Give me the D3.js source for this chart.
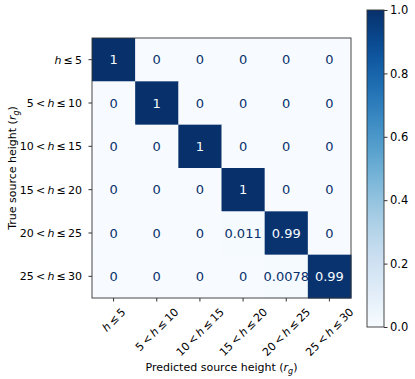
<!DOCTYPE html>
<html>
<head>
<meta charset="utf-8">
<script src="https://cdn.jsdelivr.net/npm/d3@7"></script>
<style>
  body { margin: 0; background: #fff; }
  text { font-family: "DejaVu Sans", sans-serif; }
</style>
</head>
<body>
<div id="chart"></div>
<script>
// bin labels: [prefix, suffix] round the italic h (thin spaces like mathtext)
var bins = [['', '\u2009≤\u20095'], ['5\u2009<\u2009', '\u2009≤\u200910'], ['10\u2009<\u2009', '\u2009≤\u200915'],
            ['15\u2009<\u2009', '\u2009≤\u200920'], ['20\u2009<\u2009', '\u2009≤\u200925'], ['25\u2009<\u2009', '\u2009≤\u200930']]

// rows = true height, columns = predicted height
var row0 = [1, 0, 0, 0, 0, 0]
var row1 = [0, 1, 0, 0, 0, 0]
var row2 = [0, 0, 1, 0, 0, 0]
var row3 = [0, 0, 0, 1, 0, 0]
var row4 = [0, 0, 0, 0.011, 0.99, 0]
var row5 = [0, 0, 0, 0, 0.0078, 0.99]
var matrix = [row0, row1, row2, row3, row4, row5]

var cbTicks = [0, 0.2, 0.4, 0.6, 0.8, 1.0]

var width = 415, height = 379
var m = {left: 92, top: 38, right: 351, bottom: 298}

var svg = d3.select('#chart').append('svg')
    .attr('width', width)
    .attr('height', height)

var color = d3.scaleSequential(d3.interpolateBlues).domain([0, 1])

var idx = d3.range(bins.length)
var x = d3.scaleBand().domain(idx).range([m.left, m.right])
var y = d3.scaleBand().domain(idx).range([m.top, m.bottom])

var cells = []
matrix.forEach((r, i) => r.forEach((v, j) => cells.push({i: i, j: j, v: v})))

svg.append('g').selectAll('rect')
    .data(cells)
  .enter().append('rect')
    .attr('x', d => x(d.j))
    .attr('y', d => y(d.i))
    .attr('width', x.bandwidth() + 0.5)
    .attr('height', y.bandwidth() + 0.5)
    .attr('fill', d => color(d.v))

var fmt = d3.format('.2~g')
svg.append('g').selectAll('text')
    .data(cells)
  .enter().append('text')
    .attr('x', d => x(d.j) + x.bandwidth() / 2)
    .attr('y', d => y(d.i) + y.bandwidth() / 2)
    .attr('dy', '0.36em')
    .attr('text-anchor', 'middle')
    .style('font-size', '13px')
    .attr('fill', d => d.v > 0.5 ? color(0) : color(1))
    .text(d => fmt(d.v))

// frame
svg.append('rect')
    .attr('x', m.left).attr('y', m.top)
    .attr('width', m.right - m.left).attr('height', m.bottom - m.top)
    .attr('fill', 'none').attr('stroke', '#333').attr('stroke-width', 0.9)

function binLabel(sel, b) {
    sel.append('tspan').text(b[0])
    sel.append('tspan').style('font-style', 'italic').text('h')
    sel.append('tspan').text(b[1])
}

// y axis
var yAxis = svg.append('g')
    .attr('transform', 'translate(' + m.left + ',0)')
    .call(d3.axisLeft(y).tickSize(3.5).tickFormat(''))
yAxis.select('.domain').remove()
yAxis.selectAll('line').attr('stroke', '#333')
yAxis.selectAll('.tick').append('text')
    .attr('x', -10)
    .attr('dy', '0.36em')
    .attr('text-anchor', 'end')
    .attr('fill', '#000')
    .style('font-size', '11px')
    .each(function(d) { binLabel(d3.select(this), bins[d]) })

// x axis, rotated labels centred on tick like matplotlib ha=center
var xAxis = svg.append('g')
    .attr('transform', 'translate(0,' + m.bottom + ')')
    .call(d3.axisBottom(x).tickSize(3.5).tickFormat(''))
xAxis.select('.domain').remove()
xAxis.selectAll('line').attr('stroke', '#333')
xAxis.selectAll('.tick').append('text')
    .attr('text-anchor', 'middle')
    .attr('dy', '0.36em')
    .attr('fill', '#000')
    .style('font-size', '11px')
    .each(function(d) {
        var t = d3.select(this)
        binLabel(t, bins[d])
        var L = this.getComputedTextLength()
        var half = (L + 11) / Math.SQRT2 / 2
        t.attr('transform', 'translate(0,' + (8 + half) + ') rotate(-45)')
    })

// axis titles
var xt = svg.append('text')
    .attr('x', (m.left + m.right) / 2)
    .attr('y', 371)
    .attr('text-anchor', 'middle')
    .style('font-size', '11px')
xt.append('tspan').text('Predicted source height (')
xt.append('tspan').style('font-style', 'italic').text('r')
xt.append('tspan').style('font-style', 'italic').style('font-size', '8px').attr('dy', 3).text('g')
xt.append('tspan').attr('dy', -3).text(')')

var yt = svg.append('text')
    .attr('transform', 'translate(16,' + (m.top + m.bottom) / 2 + ') rotate(-90)')
    .attr('text-anchor', 'middle')
    .style('font-size', '11px')
yt.append('tspan').text('True source height (')
yt.append('tspan').style('font-style', 'italic').text('r')
yt.append('tspan').style('font-style', 'italic').style('font-size', '8px').attr('dy', 3).text('g')
yt.append('tspan').attr('dy', -3).text(')')

// colorbar
var cb = {x: 367, w: 17, top: 10, bottom: 327}
var defs = svg.append('defs')
var grad = defs.append('linearGradient')
    .attr('id', 'cbgrad')
    .attr('x1', 0).attr('y1', 1).attr('x2', 0).attr('y2', 0)
d3.range(0, 1.001, 0.05).forEach(t => {
    grad.append('stop').attr('offset', t).attr('stop-color', color(t))
})
svg.append('rect')
    .attr('x', cb.x).attr('y', cb.top)
    .attr('width', cb.w).attr('height', cb.bottom - cb.top)
    .attr('fill', 'url(#cbgrad)')
    .attr('stroke', '#333').attr('stroke-width', 0.9)

var cy = d3.scaleLinear().domain([0, 1]).range([cb.bottom, cb.top])
var cAxis = svg.append('g')
    .attr('transform', 'translate(' + (cb.x + cb.w) + ',0)')
    .call(d3.axisRight(cy).tickValues(cbTicks).tickSize(3.5).tickFormat(d3.format('.1f')))
cAxis.select('.domain').remove()
cAxis.selectAll('line').attr('stroke', '#333')
cAxis.selectAll('text')
    .attr('x', 6)
    .attr('fill', '#000')
    .style('font-size', '11.5px')
</script>
</body>
</html>
